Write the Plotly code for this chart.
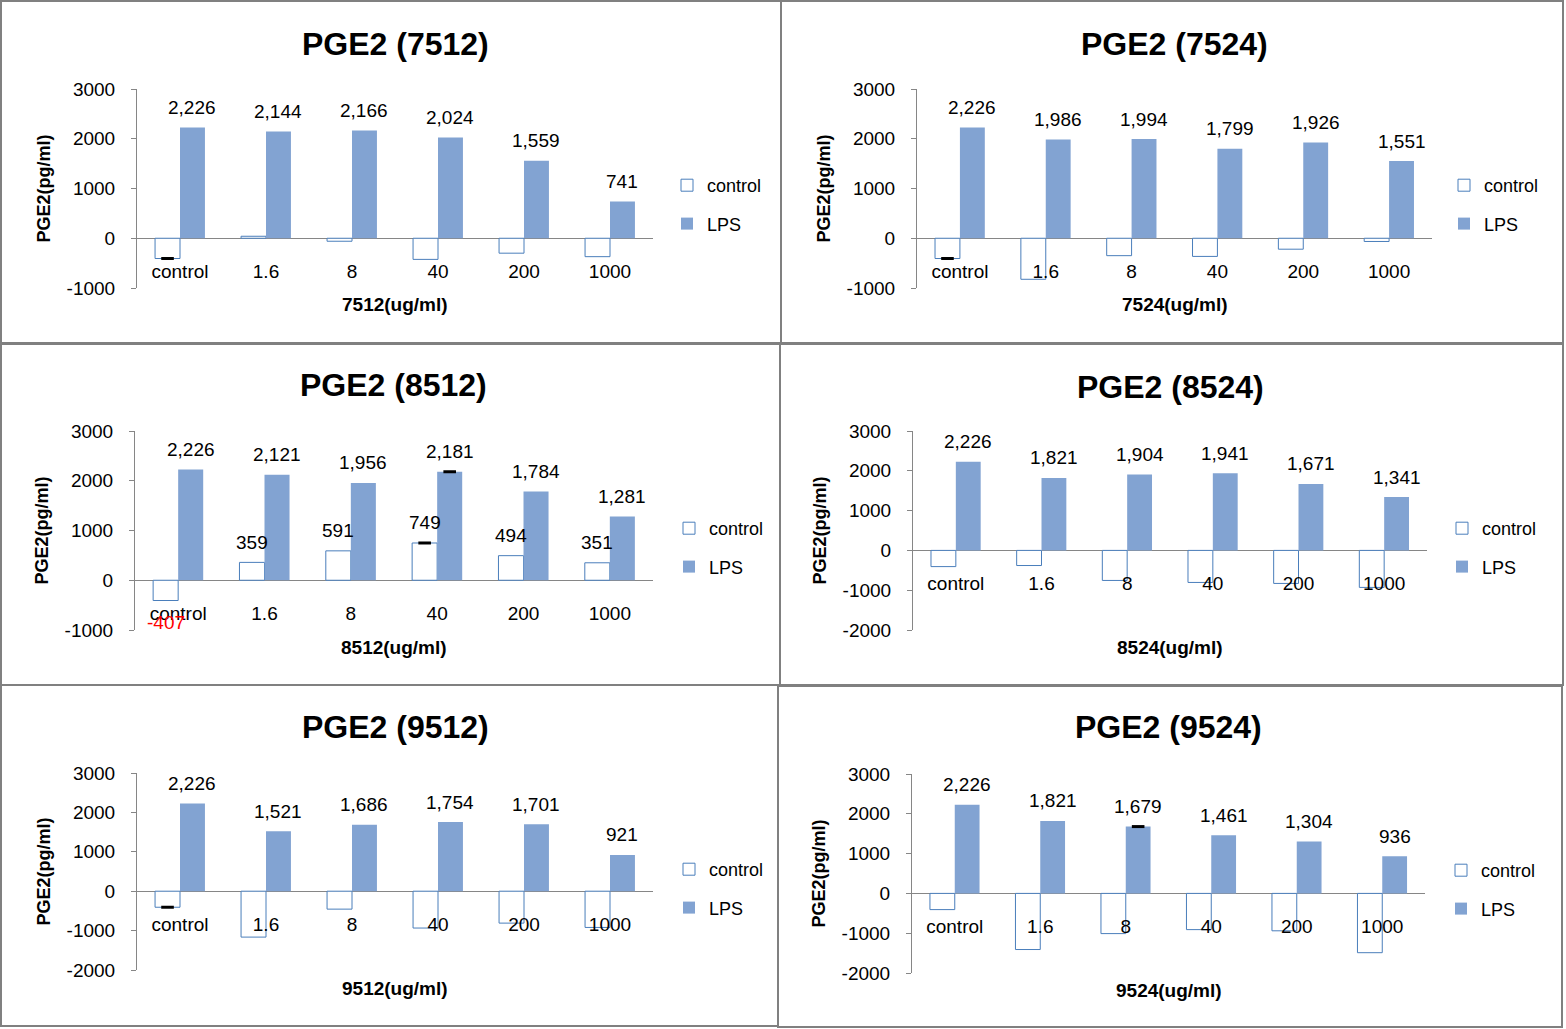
import plotly.graph_objects as go

# ---------------- data ----------------
CATEGORIES = ["control", "1.6", "8", "40", "200", "1000"]
SAMPLES = ["7512", "7524", "8512", "8524", "9512", "9524"]

CONTROL_7512 = [-407, 40, -60, -425, -300, -370]
LPS_7512 = [2226, 2144, 2166, 2024, 1559, 741]
CONTROL_7524 = [-407, -825, -350, -365, -220, -65]
LPS_7524 = [2226, 1986, 1994, 1799, 1926, 1551]
CONTROL_8512 = [-407, 359, 591, 749, 494, 351]
LPS_8512 = [2226, 2121, 1956, 2181, 1784, 1281]
CONTROL_8524 = [-407, -380, -755, -805, -830, -930]
LPS_8524 = [2226, 1821, 1904, 1941, 1671, 1341]
CONTROL_9512 = [-407, -1165, -455, -935, -810, -920]
LPS_9512 = [2226, 1521, 1686, 1754, 1701, 921]
CONTROL_9524 = [-407, -1410, -1010, -910, -940, -1490]
LPS_9524 = [2226, 1821, 1679, 1461, 1304, 936]

CONTROL = {"7512": CONTROL_7512, "7524": CONTROL_7524, "8512": CONTROL_8512,
           "8524": CONTROL_8524, "9512": CONTROL_9512, "9524": CONTROL_9524}
LPS = {"7512": LPS_7512, "7524": LPS_7524, "8512": LPS_8512,
       "8524": LPS_8524, "9512": LPS_9512, "9524": LPS_9524}

# category indices carrying a (tiny) error bar
ERR_CONTROL = {"7512": [0], "7524": [0], "8512": [3], "8524": [], "9512": [0], "9524": []}
ERR_LPS = {"7512": [], "7524": [], "8512": [3], "8524": [], "9512": [], "9524": [2]}
# panels that label the control series too
LABEL_CONTROL = {"8512"}

Y_TICKS_A = [-1000, 0, 1000, 2000, 3000]
Y_TICKS_B = [-2000, -1000, 0, 1000, 2000, 3000]
Y_TICKTEXT_A = ["-1000", "0", "1000", "2000", "3000"]
Y_TICKTEXT_B = ["-2000", "-1000", "0", "1000", "2000", "3000"]

# ---------------- style / layout ----------------
W, H = 1566, 1029
FONT = "Liberation Sans, Arial, sans-serif"
GRAY = "#868686"
CTRL_EDGE = "#4A7EBB"
LPS_COLOR = "#82A3D2"
BAR_W = 0.29
OFF = BAR_W / 2

# sample, plot x0, x1, y_top, y_bottom (px), ticks, ticktext, title y, xtitle y, legend left, legend top, border rect
PANELS = [
    ("7512", 137, 653, 89, 288, Y_TICKS_A, Y_TICKTEXT_A, 44, 304, 667, 167, (1, 1, 781, 343)),
    ("7524", 917, 1432, 89, 288, Y_TICKS_A, Y_TICKTEXT_A, 44, 304, 1444, 167, (781, 1, 1563, 343)),
    ("8512", 135, 653, 431, 630, Y_TICKS_A, Y_TICKTEXT_A, 385, 647, 669, 510, (1, 344, 780, 685)),
    ("8524", 913, 1427, 431, 630, Y_TICKS_B, Y_TICKTEXT_B, 387, 647, 1442, 510, (780, 344, 1563, 685)),
    ("9512", 137, 653, 773, 970, Y_TICKS_B, Y_TICKTEXT_B, 727, 988, 669, 851, (1, 685, 778, 1026)),
    ("9524", 912, 1425, 774, 973, Y_TICKS_B, Y_TICKTEXT_B, 727, 990, 1441, 852, (778, 686, 1562, 1027)),
]


def fx(px):
    return px / W


def fy(py):
    return 1 - py / H


fig = go.Figure()
annotations = []
shapes = []
layout = {}

for k, (s, x0, x1, yt, yb, yticks, ytext, title_y, xt_y, lg_x, lg_y, rect) in enumerate(PANELS):
    n = k + 1
    xr = "x" if n == 1 else f"x{n}"
    yr = "y" if n == 1 else f"y{n}"
    xkey = "xaxis" if n == 1 else f"xaxis{n}"
    ykey = "yaxis" if n == 1 else f"yaxis{n}"
    lkey = "legend" if n == 1 else f"legend{n}"
    ctrl = CONTROL[s]
    lps = LPS[s]
    idx = list(range(len(CATEGORIES)))

    fig.add_trace(go.Bar(
        x=[i - OFF for i in idx], y=ctrl, width=BAR_W, name="control",
        marker=dict(color="white", line=dict(color=CTRL_EDGE, width=1)),
        xaxis=xr, yaxis=yr, legend=lkey, legendgroup=f"c{n}", hoverinfo="skip"))
    fig.add_trace(go.Bar(
        x=[i + OFF for i in idx], y=lps, width=BAR_W, name="LPS",
        marker=dict(color=LPS_COLOR, line=dict(width=0)),
        xaxis=xr, yaxis=yr, legend=lkey, legendgroup=f"l{n}", hoverinfo="skip"))

    ex = [i - OFF for i in ERR_CONTROL[s]] + [i + OFF for i in ERR_LPS[s]]
    ey = [ctrl[i] for i in ERR_CONTROL[s]] + [lps[i] for i in ERR_LPS[s]]
    if ex:
        fig.add_trace(go.Scatter(
            x=ex, y=ey, mode="markers", showlegend=False, hoverinfo="skip",
            marker=dict(symbol="line-ew", size=9, line=dict(width=3, color="black")),
            xaxis=xr, yaxis=yr))

    ymin, ymax = yticks[0], yticks[-1]
    d0, d1 = fy(yb), fy(yt)
    zero_pos = d0 + (0 - ymin) / (ymax - ymin) * (d1 - d0)

    layout[xkey] = dict(
        domain=[fx(x0), fx(x1)], range=[-0.5, len(CATEGORIES) - 0.5],
        anchor="free", position=zero_pos, automargin=False,
        tickvals=idx, ticktext=CATEGORIES, ticks="", showline=False,
        showgrid=False, zeroline=False, ticklabelstandoff=20,
        tickfont=dict(family=FONT, size=19, color="black"), fixedrange=True)
    layout[ykey] = dict(
        domain=[d0, d1], range=[ymin, ymax], anchor=xr, automargin=False,
        tickvals=yticks, ticktext=ytext, ticks="outside", ticklen=5,
        tickcolor=GRAY, showline=True, linecolor=GRAY, linewidth=1,
        zeroline=True, zerolinecolor=GRAY, zerolinewidth=1, showgrid=False,
        ticklabelstandoff=12,
        tickfont=dict(family=FONT, size=19, color="black"),
        title=dict(text="PGE2(pg/ml)", standoff=11,
                   font=dict(family=FONT, size=18, color="black", weight="bold")),
        fixedrange=True)
    layout[lkey] = dict(
        x=fx(lg_x), y=fy(lg_y), xanchor="left", yanchor="top",
        traceorder="grouped", tracegroupgap=12, bgcolor="rgba(0,0,0,0)",
        font=dict(family=FONT, size=18, color="black"))

    # data labels
    for i in idx:
        annotations.append(dict(
            x=i + OFF, y=lps[i], xref=xr, yref=yr, text=f"{lps[i]:,}",
            showarrow=False, yshift=20, xanchor="center", yanchor="middle",
            font=dict(family=FONT, size=19, color="black")))
        if s in LABEL_CONTROL:
            v = ctrl[i]
            annotations.append(dict(
                x=i - OFF, y=v, xref=xr, yref=yr, text=f"{v:,}",
                showarrow=False, yshift=20 if v >= 0 else -22,
                xanchor="center", yanchor="middle",
                font=dict(family=FONT, size=19, color="black" if v >= 0 else "red")))

    # titles
    annotations.append(dict(
        x=fx((x0 + x1) / 2), y=fy(title_y), xref="paper", yref="paper",
        text=f"PGE2 ({s})", showarrow=False, xanchor="center", yanchor="middle",
        font=dict(family=FONT, size=32, color="black", weight="bold")))
    annotations.append(dict(
        x=fx((x0 + x1) / 2), y=fy(xt_y), xref="paper", yref="paper",
        text=f"{s}(ug/ml)", showarrow=False, xanchor="center", yanchor="middle",
        font=dict(family=FONT, size=19, color="black", weight="bold")))

    bx0, by0, bx1, by1 = rect
    shapes.append(dict(type="rect", xref="paper", yref="paper",
                       x0=fx(bx0), x1=fx(bx1), y0=fy(by1), y1=fy(by0),
                       line=dict(color="#808080", width=2), fillcolor="rgba(0,0,0,0)"))

fig.update_layout(
    width=W, height=H, margin=dict(l=0, r=0, t=0, b=0, pad=0, autoexpand=False),
    paper_bgcolor="white", plot_bgcolor="white",
    barmode="overlay", annotations=annotations, shapes=shapes,
    font=dict(family=FONT, color="black"),
    **layout)

fig.write_html("out.html", config={"displayModeBar": False},
               post_script="document.body.style.margin='0';")
